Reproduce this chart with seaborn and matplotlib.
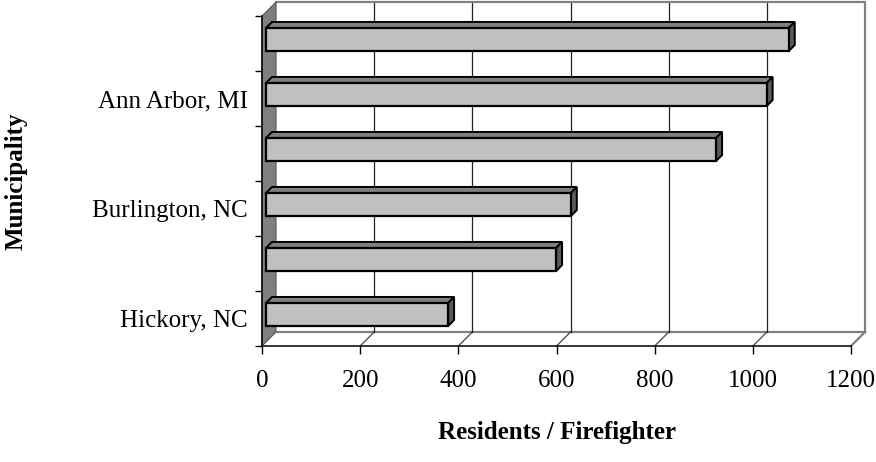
import numpy as np
import pandas as pd
import matplotlib
matplotlib.use("Agg")
import matplotlib.pyplot as plt
from matplotlib.patches import Polygon
import seaborn as sns

# data, top bar first (only every other category is labelled in the original)
slots = [0, 1, 2, 3, 4, 5]
slot_labels = ["", "Ann Arbor, MI", "", "Burlington, NC", "", "Hickory, NC"]
residents_per_ff = [1065, 1020, 917, 621, 591, 371]
x_ticks = [0, 200, 400, 600, 800, 1000, 1200]

df = pd.DataFrame({"slot": slots, "value": residents_per_ff})

plt.rcParams["font.family"] = ["Liberation Serif", "DejaVu Serif"]

W, H = 876, 462
fig = plt.figure(figsize=(W / 100, H / 100), dpi=100)
# front plane of the pseudo 3d box
ax = fig.add_axes([262 / W, 116 / H, 589 / W, 330 / H])

sns.barplot(data=df, x="value", y="slot", orient="h", order=slots,
            width=0.42, color="#C0C0C0", saturation=1,
            edgecolor="black", linewidth=1.6, ax=ax, zorder=5)

ax.set_xlim(0, 1200)
ax.set_ylim(5.5, -0.5)

# pixel -> data for depth offsets
kx = 1200 / 589
ky = 1 / 55
depth = 14       # wall depth in px
bar_front = 4    # bar front face depth
bar_deep = 6     # bar thickness

wall_dx, wall_dy = depth * kx, depth * ky
y_top, y_bot = -0.5, 5.5

# floor
floor = Polygon([(0, y_bot), (1200, y_bot), (1200 + wall_dx, y_bot - wall_dy),
                 (wall_dx, y_bot - wall_dy)], closed=True, facecolor="white",
                edgecolor="none", clip_on=False, zorder=0)
ax.add_patch(floor)
ax.plot([wall_dx, 1200 + wall_dx], [y_bot - wall_dy] * 2, color="#808080", lw=1.6,
        clip_on=False, zorder=1)
for v in x_ticks[1:]:
    ax.plot([v, v + wall_dx], [y_bot, y_bot - wall_dy], color="#444444" if v < 1200 else "#808080",
            lw=0.9 if v < 1200 else 1.6, clip_on=False, zorder=1)

# back wall gridlines and border
for v in x_ticks[1:-1]:
    ax.plot([v + wall_dx] * 2, [y_bot - wall_dy, y_top - wall_dy], color="#222222", lw=0.9,
            clip_on=False, zorder=1)
ax.plot([wall_dx, 1200 + wall_dx, 1200 + wall_dx],
        [y_top - wall_dy, y_top - wall_dy, y_bot - wall_dy],
        color="#808080", lw=1.6, clip_on=False, zorder=1)

# left wall
lwall = Polygon([(0, y_bot), (0, y_top), (wall_dx, y_top - wall_dy), (wall_dx, y_bot - wall_dy)],
                closed=True, facecolor="#808080", edgecolor="#555555", lw=0.8,
                clip_on=False, zorder=2)
ax.add_patch(lwall)

# give the seaborn bars depth
ox, oy = bar_front * kx, bar_front * ky
dx, dy = bar_deep * kx, bar_deep * ky
for p in ax.patches:
    if p in (floor, lwall):
        continue
    p.set_x(p.get_x() + ox)
    p.set_y(p.get_y() - oy)
    L, T = p.get_x(), p.get_y()
    R, B = L + p.get_width(), T + p.get_height()
    top = Polygon([(L, T), (R, T), (R + dx, T - dy), (L + dx, T - dy)], closed=True,
                  facecolor="#808080", edgecolor="black", lw=1.4, zorder=4, clip_on=False)
    side = Polygon([(R, T), (R, B), (R + dx, B - dy), (R + dx, T - dy)], closed=True,
                   facecolor="#5A5A5A", edgecolor="black", lw=1.4, zorder=4, clip_on=False)
    ax.add_patch(top)
    ax.add_patch(side)

# axes, ticks and labels
for s in ["top", "right"]:
    ax.spines[s].set_visible(False)
ax.spines["left"].set_color("black")
ax.spines["bottom"].set_color("black")
ax.spines["left"].set_linewidth(1.1)
ax.spines["bottom"].set_linewidth(1.1)
ax.spines["left"].set_zorder(6)

ax.set_xticks(x_ticks)
ax.set_xticklabels([str(t) for t in x_ticks])
ax.set_yticks(slots)
ax.set_yticklabels(slot_labels)
ax.set_yticks(np.arange(-0.5, 6, 1), minor=True)
ax.tick_params(axis="y", which="major", length=0, pad=10, labelsize=18)
ax.tick_params(axis="y", which="minor", length=5, width=1, color="black")
ax.tick_params(axis="x", length=6, width=1, color="black", pad=11, labelsize=18)
ax.set_xlabel("")
ax.set_ylabel("")

fig.text(557 / W, 1 - 433 / H, "Residents / Firefighter", ha="center", va="center",
         fontsize=18, fontweight="bold")
fig.text(16 / W, 1 - 181 / H, "Municipality", ha="center", va="center",
         rotation=90, fontsize=18, fontweight="bold")

fig.savefig("out.png", dpi=100, facecolor="white")
